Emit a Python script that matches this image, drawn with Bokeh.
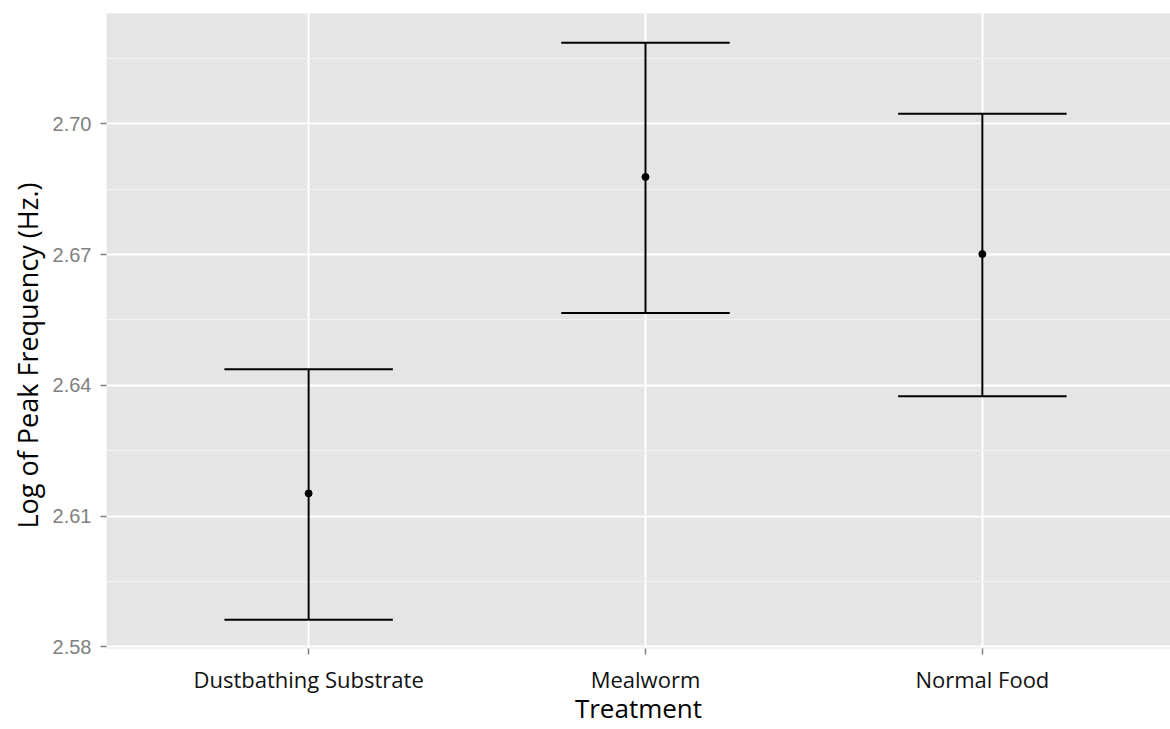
from bokeh.plotting import figure
from bokeh.models import Range1d, FixedTicker, NumeralTickFormatter, Title
from bokeh.embed import file_html
from bokeh.resources import INLINE

# Mean log peak frequency per treatment with confidence limits
treatments = ["Dustbathing Substrate", "Mealworm", "Normal Food"]
mean_log_freq = [2.6152, 2.6878, 2.6701]
lower_limit = [2.5862, 2.6566, 2.6375]
upper_limit = [2.6437, 2.7186, 2.7023]

y_ticks = [2.58, 2.61, 2.64, 2.67, 2.70]
y_minor = [2.595, 2.625, 2.655, 2.685, 2.715]

xpos = [i + 1 for i in range(len(treatments))]
cap_half = 0.25  # error bar whisker half-width (category units)

p = figure(
    width=1170, height=729,
    x_range=Range1d(0.4, 3.5585), y_range=Range1d(2.5796, 2.7253),
    output_backend="svg", toolbar_location=None,
    min_border_left=106, min_border_right=0, min_border_top=13, min_border_bottom=81,
)
p.background_fill_color = "#E5E5E5"
p.border_fill_color = "white"
p.outline_line_color = None

# grid
p.xgrid.ticker = FixedTicker(ticks=xpos)
p.ygrid.ticker = FixedTicker(ticks=y_ticks, minor_ticks=y_minor)
for g in (p.xgrid, p.ygrid):
    g.grid_line_color = "white"
    g.grid_line_width = 2
p.ygrid.minor_grid_line_color = "#F2F2F2"
p.ygrid.minor_grid_line_width = 1.2

# axes
p.xaxis.ticker = FixedTicker(ticks=xpos)
p.xaxis.major_label_overrides = {x: t for x, t in zip(xpos, treatments)}
p.yaxis.ticker = FixedTicker(ticks=y_ticks, minor_ticks=[])
p.yaxis.formatter = NumeralTickFormatter(format="0.00")

for ax in (p.xaxis, p.yaxis):
    ax.axis_line_color = None
    ax.minor_tick_line_color = None
    ax.major_tick_line_color = "#7F7F7F"
    ax.major_tick_line_width = 1.5
    ax.major_tick_out = 6
    ax.major_tick_in = 0

p.xaxis.major_label_text_font = "Open Sans"
p.xaxis.major_label_text_font_size = "22px"
p.xaxis.major_label_text_color = "#111111"
p.xaxis.major_label_standoff = 9

p.xaxis.axis_label = "Treatment"
p.xaxis.axis_label_text_font = "Open Sans"
p.xaxis.axis_label_text_font_style = "normal"
p.xaxis.axis_label_text_font_size = "26px"
p.xaxis.axis_label_text_color = "black"
p.xaxis.axis_label_standoff = -7

p.yaxis.major_label_text_font = "Liberation Sans"
p.yaxis.major_label_text_font_size = "20px"
p.yaxis.major_label_text_color = "#7F7F7F"
p.yaxis.major_label_standoff = 9

# y title, placed at the outer edge of the left margin
ytitle = Title(text="Log of Peak Frequency (Hz.)", align="left", vertical_align="top",
               offset=120, standoff=4,
               text_font="Open Sans", text_font_size="27px", text_font_style="normal",
               text_color="black")
p.add_layout(ytitle, "left")

# error bars
p.segment(x0=xpos, y0=lower_limit, x1=xpos, y1=upper_limit, line_color="black", line_width=2)
p.segment(x0=[x - cap_half for x in xpos], y0=upper_limit,
          x1=[x + cap_half for x in xpos], y1=upper_limit, line_color="black", line_width=2)
p.segment(x0=[x - cap_half for x in xpos], y0=lower_limit,
          x1=[x + cap_half for x in xpos], y1=lower_limit, line_color="black", line_width=2)

# means
p.scatter(x=xpos, y=mean_log_freq, size=7, color="black")

open("out.html", "w").write(file_html(p, INLINE))
